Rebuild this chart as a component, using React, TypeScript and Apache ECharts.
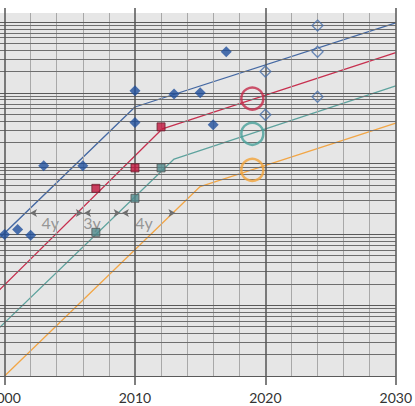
import React, { useEffect, useRef } from 'react';
import * as echarts from 'echarts';

// ---- data ----
const xTickLabels = [2000, 2010, 2020, 2030];
const minorYears = [2002, 2004, 2006, 2008, 2012, 2014, 2016, 2018, 2022, 2024, 2026, 2028];

const blueTrend = [[1998, 46], [2010, 6300], [2030, 97000]];
const redTrend = [[1998, 8.4], [2012.1, 3100], [2030, 37000]];
const tealTrend = [[1998, 2.5], [2013, 1160], [2030, 12500]];
const orangeTrend = [[2000, 1], [2015, 474], [2030, 3730]];

const blueFilled = [
  [2000, 100], [2001, 117], [2002, 97], [2003, 935], [2006, 935],
  [2010, 10700], [2010, 3800], [2013, 9600], [2015, 10000], [2016, 3540], [2017, 38000],
];
const blueOpen = [[2020, 20000], [2020, 4900], [2024, 89000], [2024, 38000], [2024, 8800]];
const redSquares = [[2007, 447], [2010, 870], [2012, 3300]];
const tealSquares = [[2007, 107], [2010, 324], [2012, 870]];
const redCircle = [[2019, 8300]];
const tealCircle = [[2019, 2640]];
const orangeCircle = [[2019, 814]];

const gapArrows = [[2001.95, 2006.0], [2006.1, 2008.9], [2009.0, 2013.1]];
const gapLevel = 200;
const gapLabels = ['4y', '3y', '4y'];
const gapLabelYears = [2003.5, 2006.7, 2010.7];
const gapLabelLevel = 145;

const Y_MIN = 1;
const Y_MAX = 134000;

const logGrid: number[] = [];
for (let e = 0; e <= 5; e++) {
  for (let k = 1; k <= 9; k++) {
    const v = k * Math.pow(10, e);
    if (v <= Y_MAX) logGrid.push(v);
  }
}

export default function App() {
  const ref = useRef<HTMLDivElement>(null);
  useEffect(() => {
    if (!ref.current) return;
    const chart = echarts.init(ref.current, undefined, { renderer: 'svg' });
    const lineSeries = (data: number[][], color: string) => ({
      type: 'line',
      data,
      showSymbol: false,
      symbol: 'none',
      lineStyle: { color, width: 1.3 },
      z: 3,
      silent: true,
    });
    chart.setOption({
      animation: false,
      textStyle: { fontFamily: 'Lato' },
      grid: {
        left: 8.5,
        right: 17.3,
        top: 13,
        bottom: 30,
        show: true,
        backgroundColor: '#e6e6e6',
        borderWidth: 0,
      },
      xAxis: [
        {
          type: 'value',
          min: 1998,
          max: 2030,
          interval: 2,
          position: 'bottom',
          axisLine: { show: false },
          axisTick: {
            show: true,
            length: 9,
            customValues: xTickLabels,
            lineStyle: { color: '#555', width: 1.5 },
          },
          axisLabel: {
            color: '#333',
            fontSize: 14,
            fontFamily: 'Lato',
            margin: 14,
            customValues: xTickLabels,
            formatter: (v: number) => String(v),
          },
          splitLine: { show: false },
        },
        {
          type: 'value',
          min: 1998,
          max: 2030,
          interval: 2,
          position: 'top',
          axisLine: { show: false },
          axisTick: {
            show: true,
            length: 5,
            customValues: xTickLabels,
            lineStyle: { color: '#555', width: 1.5 },
          },
          axisLabel: { show: false },
          splitLine: { show: false },
        },
      ],
      yAxis: {
        type: 'log',
        logBase: 10,
        min: Y_MIN,
        max: Y_MAX,
        axisLine: { show: false },
        axisTick: { show: false },
        axisLabel: { show: false },
        splitLine: { show: false },
      },
      series: [
        {
          type: 'line',
          data: [[2000, 1]],
          showSymbol: false,
          symbol: 'none',
          lineStyle: { opacity: 0 },
          z: 1,
          silent: true,
          markLine: {
            silent: true,
            symbol: 'none',
            label: { show: false },
            animation: false,
            data: [
              ...minorYears.map((y) => ({ xAxis: y, lineStyle: { color: '#a8a8a8', width: 1, type: 'solid' } })),
              ...logGrid.map((v) => ({
                yAxis: v,
                lineStyle: {
                  color: [1, 10, 100, 1000, 10000, 100000].includes(v) ? '#5a5a5a' : '#6e6e6e',
                  width: 1,
                  type: 'solid',
                },
              })),
              ...xTickLabels.map((y) => ({ xAxis: y, lineStyle: { color: '#555555', width: 1.5, type: 'solid' } })),
            ],
          },
        },
        {
          type: 'line',
          data: [[2000, 1]],
          showSymbol: false,
          symbol: 'none',
          lineStyle: { opacity: 0 },
          z: 2,
          silent: true,
          markLine: {
            silent: true,
            symbol: ['arrow', 'arrow'],
            symbolSize: [6, 7],
            label: { show: false },
            animation: false,
            lineStyle: { color: '#6e6e6e', width: 1, type: 'solid' },
            data: gapArrows.map(([a, b]) => [{ coord: [a, gapLevel] }, { coord: [b, gapLevel] }]),
          },
        },
        {
          type: 'scatter',
          data: gapLabelYears.map((x, i) => ({ value: [x, gapLabelLevel], name: gapLabels[i] })),
          symbolSize: 0,
          silent: true,
          z: 2,
          label: {
            show: true,
            position: [0, 0],
            align: 'center',
            verticalAlign: 'middle',
            formatter: (p: any) => p.name,
            color: '#808080',
            fontSize: 16,
            fontFamily: 'Lato',
          },
        },
        lineSeries(blueTrend, '#4569a3'),
        lineSeries(redTrend, '#c7304f'),
        lineSeries(tealTrend, '#5ea39e'),
        lineSeries(orangeTrend, '#f2a646'),
        {
          type: 'scatter',
          data: blueFilled,
          symbol: 'diamond',
          symbolSize: 11,
          itemStyle: { color: '#1f4f9c' },
          z: 5,
          silent: true,
        },
        {
          type: 'scatter',
          data: blueOpen,
          symbol: 'diamond',
          symbolSize: 11,
          itemStyle: { color: 'rgba(0,0,0,0)', borderColor: '#4a70aa', borderWidth: 1.3 },
          z: 5,
          silent: true,
        },
        {
          type: 'scatter',
          data: redSquares,
          symbol: 'rect',
          symbolSize: 8,
          itemStyle: { color: '#c0143c', borderColor: '#6a2030', borderWidth: 1 },
          z: 5,
          silent: true,
        },
        {
          type: 'scatter',
          data: tealSquares,
          symbol: 'rect',
          symbolSize: 8,
          itemStyle: { color: '#4f8a8c', borderColor: '#555', borderWidth: 1 },
          z: 5,
          silent: true,
        },
        {
          type: 'scatter',
          data: redCircle,
          symbol: 'circle',
          symbolSize: 22,
          itemStyle: { color: 'rgba(0,0,0,0)', borderColor: '#c42a4a', borderWidth: 2.5 },
          z: 5,
          silent: true,
        },
        {
          type: 'scatter',
          data: tealCircle,
          symbol: 'circle',
          symbolSize: 22,
          itemStyle: { color: 'rgba(0,0,0,0)', borderColor: '#47a09a', borderWidth: 2.5 },
          z: 5,
          silent: true,
        },
        {
          type: 'scatter',
          data: orangeCircle,
          symbol: 'circle',
          symbolSize: 22,
          itemStyle: { color: 'rgba(0,0,0,0)', borderColor: '#f2a43a', borderWidth: 2.5 },
          z: 5,
          silent: true,
        },
      ],
    });
    return () => chart.dispose();
  }, []);
  return (
    <div
      ref={ref}
      style={{ position: 'absolute', left: -30, top: 0, width: 445, height: 406 }}
    />
  );
}
